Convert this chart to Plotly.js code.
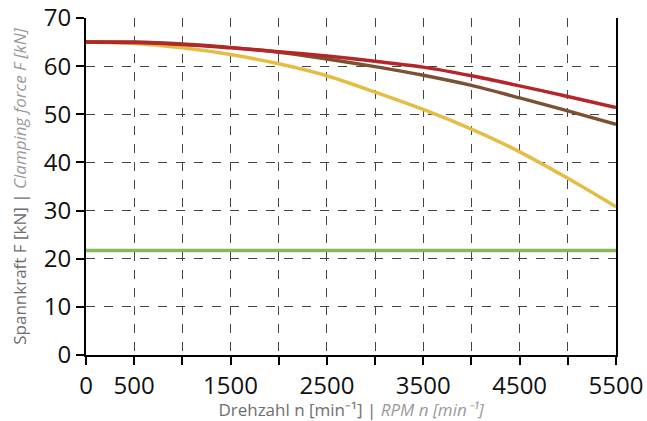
<!DOCTYPE html>
<html><head><meta charset="utf-8">
<script src="https://cdn.plot.ly/plotly-3.0.1.min.js"></script>
<style>html,body{margin:0;padding:0;background:#fff}#chart{width:647px;height:421px}</style>
</head><body><div id="chart"></div>
<script>
const rpm = [0, 500, 1000, 1500, 2000, 2500, 3000, 3500, 4000, 4500, 5000, 5500];
const redForce = [65, 64.9, 64.5, 63.8, 63.0, 62.1, 61.0, 59.8, 58.0, 55.9, 53.7, 51.4];
const brownForce = [65, 65, 64.6, 63.9, 62.9, 61.5, 59.9, 58.1, 56.0, 53.4, 50.7, 47.9];
const yellowForce = [65, 64.7, 63.8, 62.4, 60.5, 58.0, 54.6, 51.0, 46.9, 42.2, 36.7, 30.8];
const greenForce = [21.7, 21.7, 21.7, 21.7, 21.7, 21.7, 21.7, 21.7, 21.7, 21.7, 21.7, 21.7];
const xTickVals = [0, 500, 1000, 1500, 2000, 2500, 3000, 3500, 4000, 4500, 5000, 5500];
const xTickText = ['0', '500', '', '1500', '', '2500', '', '3500', '', '4500', '', '5500'];
const yTickVals = [0, 10, 20, 30, 40, 50, 60, 70];

const series = [
  {y: greenForce, color: '#8ab75a'},
  {y: yellowForce, color: '#e5bd45'},
  {y: brownForce, color: '#7a5233'},
  {y: redForce, color: '#b4262a'}
];
const traces = series.map(s => ({
  x: rpm, y: s.y, type: 'scatter', mode: 'lines',
  line: {color: s.color, width: 3.5, shape: 'spline', smoothing: 0.8},
  hoverinfo: 'skip'
}));

const tickFont = {family: 'Liberation Sans Narrow, Arial Narrow, Open Sans, sans-serif', size: 24, color: '#111'};
const layout = {
  width: 647, height: 421,
  margin: {l: 86, r: 31, t: 18, b: 66},
  paper_bgcolor: '#fff', plot_bgcolor: '#fff',
  showlegend: false,
  font: {family: 'Open Sans, sans-serif', color: '#000'},
  xaxis: {
    range: [0, 5500], tickvals: xTickVals, ticktext: xTickText,
    ticks: 'outside', ticklen: 8, tickwidth: 2, tickcolor: '#000',
    showline: true, linecolor: '#000', linewidth: 2,
    showgrid: true, gridcolor: '#444', griddash: 'dash', gridwidth: 1,
    zeroline: false, ticklabeloverflow: 'allow',
    tickfont: tickFont,
    title: {text: 'Drehzahl n [min⁻¹] | <i><span style="color:#9a9a9a">RPM n [min⁻¹]</span></i>', font: {size: 17, color: '#6e6e6e'}, standoff: 4}
  },
  yaxis: {
    range: [0, 70], tickvals: yTickVals,
    ticks: 'outside', ticklen: 8, tickwidth: 2, tickcolor: '#000',
    showline: true, linecolor: '#000', linewidth: 2, mirror: true,
    showgrid: true, gridcolor: '#444', griddash: 'dash', gridwidth: 1,
    zeroline: false, ticklabeloverflow: 'allow',
    tickfont: tickFont,
    title: {text: 'Spannkraft F [kN] | <i><span style="color:#9a9a9a">Clamping force F [kN]</span></i>', font: {size: 17, color: '#6e6e6e'}, standoff: 13}
  }
};
Plotly.newPlot('chart', traces, layout, {staticPlot: true, displayModeBar: false});
</script></body></html>
